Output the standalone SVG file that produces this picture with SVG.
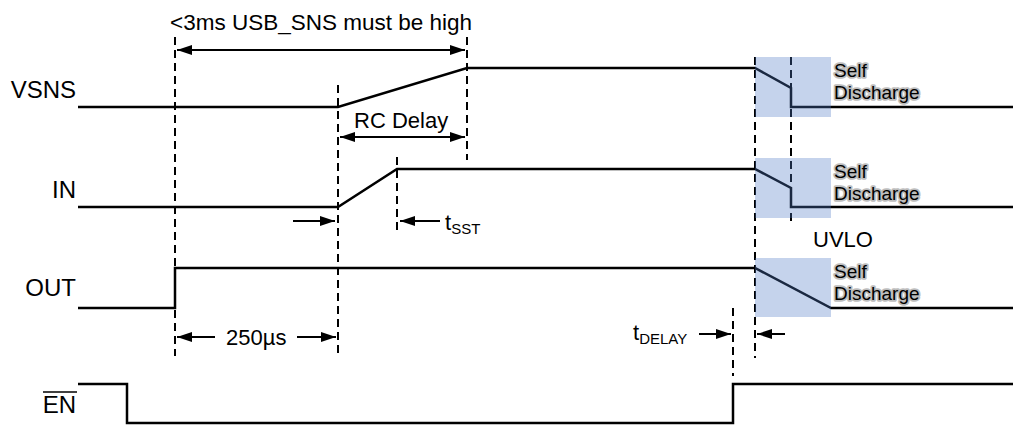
<svg xmlns="http://www.w3.org/2000/svg" width="1013" height="425" viewBox="0 0 1013 425">
<style>
text{font-family:"Liberation Sans",Arial,Helvetica,sans-serif;fill:#000}
.lbl{font-size:24px;text-anchor:end}
.ann{font-size:22px}
.top{font-size:22.5px}
.sub{font-size:15px}
.sig{fill:none;stroke:#000;stroke-width:2.5;stroke-linejoin:miter}
.dash{fill:none;stroke:#000;stroke-width:2;stroke-dasharray:8,5}
.arr{fill:none;stroke:#000;stroke-width:2}
.box{fill:#4f79c5;fill-opacity:0.33}
.sd{font-size:19px;stroke:#bdbdbd;stroke-width:3.5;paint-order:stroke;stroke-linejoin:round}
</style>
<defs>
<marker id="ah" markerUnits="userSpaceOnUse" markerWidth="15" markerHeight="10" refX="15" refY="5" orient="auto-start-reverse">
<path d="M0,0 L15,5 L0,10 Z" fill="#000"/>
</marker>
</defs>
<g id="guides">
<line class="dash" x1="175" y1="37" x2="175" y2="356"/>
<line class="dash" x1="338" y1="85" x2="338" y2="356"/>
<line class="dash" x1="467" y1="37" x2="467" y2="160"/>
<line class="dash" x1="397" y1="157" x2="397" y2="234"/>
<line class="dash" x1="733" y1="308" x2="733" y2="376"/>
<line class="dash" x1="755" y1="57" x2="755" y2="358"/>
<line class="dash" x1="791" y1="57" x2="791" y2="226"/>
</g>
<g id="vsns">
<text class="lbl" x="76" y="98">VSNS</text>
<path class="sig" d="M78,107 H338 L467,68 H755 L791,88 V107 H1013"/>
</g>
<g id="in">
<text class="lbl" x="76" y="198">IN</text>
<path class="sig" d="M78,207 H338 L397,169 H755 L791,188 V207 H1013"/>
</g>
<g id="out">
<text class="lbl" x="76" y="296">OUT</text>
<path class="sig" d="M78,308 H175 V268 H755 L831,308 H1013"/>
</g>
<g id="en">
<text class="lbl" x="76" y="413">EN</text>
<line x1="43" y1="392" x2="77" y2="392" stroke="#000" stroke-width="1.5"/>
<path class="sig" d="M78,384 H127 V423 H733 V384 H1013"/>
</g>
<g id="discharge">
<rect class="box" x="755" y="57" width="76" height="60"/>
<rect class="box" x="755" y="158" width="76" height="60"/>
<rect class="box" x="755" y="258" width="76" height="59"/>
<text class="sd" x="834" y="77">Self</text>
<text class="sd" x="834" y="99">Discharge</text>
<text class="sd" x="834" y="178">Self</text>
<text class="sd" x="834" y="200">Discharge</text>
<text class="sd" x="834" y="278">Self</text>
<text class="sd" x="834" y="300">Discharge</text>
<text class="ann" x="813" y="247">UVLO</text>
</g>
<g id="connectors">
<line class="arr" x1="177" y1="50" x2="465" y2="50" marker-start="url(#ah)" marker-end="url(#ah)"/>
<line class="arr" x1="340" y1="137" x2="465" y2="137" marker-start="url(#ah)" marker-end="url(#ah)"/>
<line class="arr" x1="293" y1="221" x2="335" y2="221" marker-end="url(#ah)"/>
<line class="arr" x1="440" y1="221" x2="400" y2="221" marker-end="url(#ah)"/>
<line class="arr" x1="215" y1="337" x2="177" y2="337" marker-end="url(#ah)"/>
<line class="arr" x1="297" y1="337" x2="336" y2="337" marker-end="url(#ah)"/>
<line class="arr" x1="699" y1="334" x2="731" y2="334" marker-end="url(#ah)"/>
<line class="arr" x1="785" y1="334" x2="757" y2="334" marker-end="url(#ah)"/>
</g>
<g id="labels">
<text class="top" x="170" y="30">&lt;3ms USB_SNS must be high</text>
<text class="ann" x="354" y="128">RC Delay</text>
<text class="ann" x="226" y="345">250µs</text>
<text class="ann" x="445" y="230">t<tspan class="sub" dy="4">SST</tspan></text>
<text class="ann" x="633" y="340">t<tspan class="sub" dy="4">DELAY</tspan></text>
</g>
</svg>
